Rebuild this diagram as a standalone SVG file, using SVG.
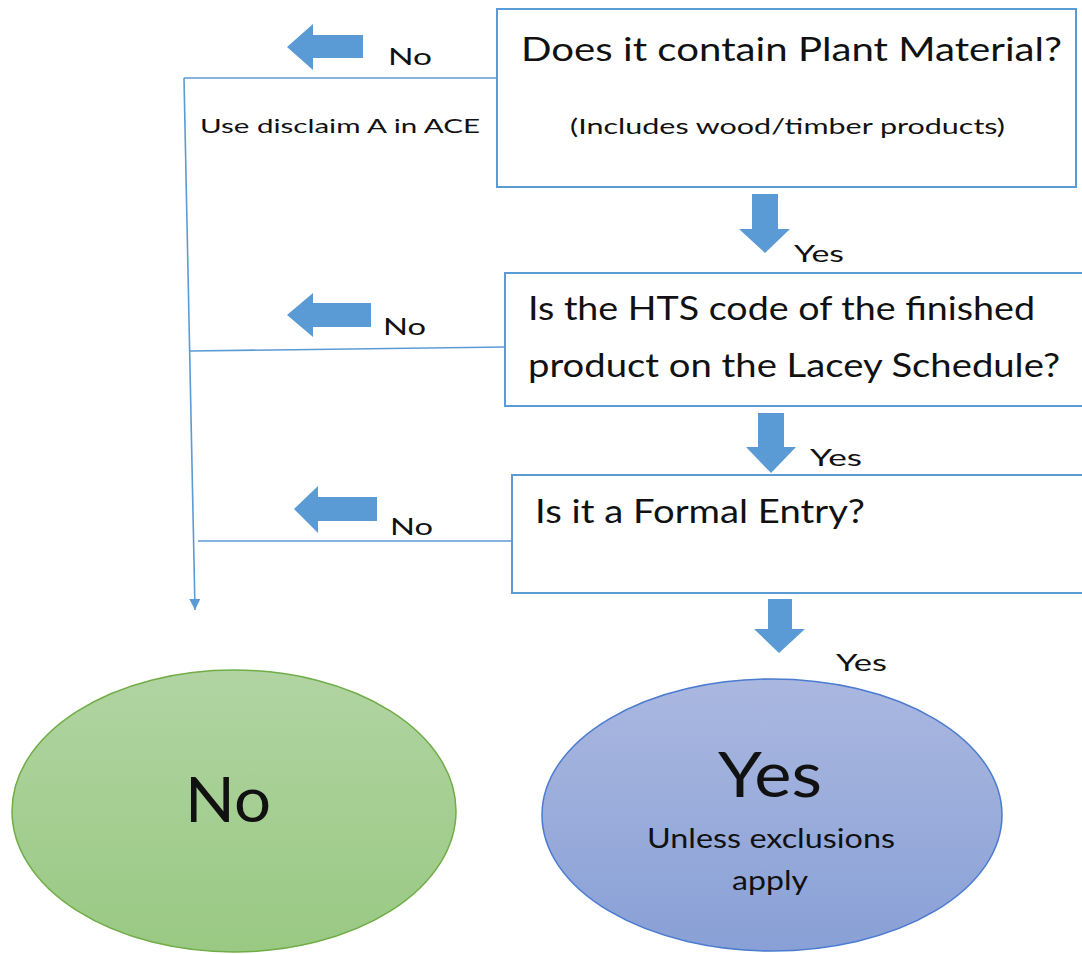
<svg xmlns="http://www.w3.org/2000/svg" width="1082" height="954" viewBox="0 0 1082 954">
<defs>
<linearGradient id="gGreen" x1="0" y1="0" x2="0" y2="1"><stop offset="0" stop-color="#b1d4a2"/><stop offset="1" stop-color="#99c983"/></linearGradient>
<linearGradient id="gBlue" x1="0" y1="0" x2="0" y2="1"><stop offset="0" stop-color="#aab8e0"/><stop offset="1" stop-color="#89a0d6"/></linearGradient>
<marker id="ah" viewBox="0 0 10 10" refX="10" refY="5" markerWidth="11" markerHeight="11" markerUnits="userSpaceOnUse" orient="auto">
<path d="M0,0 L10,5 L0,10 Z" fill="#5b9bd5"/>
</marker>
<style>
text{font-family:Lato,"Open Sans","Liberation Sans",sans-serif;fill:#111}
.box{fill:#fff;stroke:#5b9bd5;stroke-width:2}
.blk{fill:#5b9bd5}
.ln{stroke:#5b9bd5;stroke-width:1.6;fill:none}
.lbl{font-size:24px}
</style>
</defs>
<rect width="1082" height="954" fill="#fff"/>
<g id="connectors">
<polyline class="ln" points="497,78 184,78"/>
<line class="ln" x1="184" y1="78" x2="195" y2="610" marker-end="url(#ah)"/>
<line class="ln" x1="190" y1="351" x2="505" y2="347"/>
<line class="ln" x1="198" y1="541" x2="512" y2="541"/>
<path class="blk" d="M287,47 L313,24 L313,35 L363,35 L363,58 L313,58 L313,70 Z"/>
<path class="blk" d="M287,315 L313,293 L313,303 L371,303 L371,327 L313,327 L313,337 Z"/>
<path class="blk" d="M294,509 L318,486 L318,497 L377,497 L377,521 L318,521 L318,533 Z"/>
<path class="blk" d="M752,194 L778,194 L778,229 L790,229 L765,253 L739,229 L752,229 Z"/>
<path class="blk" d="M758,413 L784,413 L784,447 L796,447 L771,473 L746,447 L758,447 Z"/>
<path class="blk" d="M768,599 L792,599 L792,629 L805,629 L779,653 L754,629 L768,629 Z"/>
<text class="lbl" x="388" y="65" textLength="44" lengthAdjust="spacingAndGlyphs">No</text>
<text x="200" y="133" font-size="20" textLength="280" lengthAdjust="spacingAndGlyphs">Use disclaim A in ACE</text>
<text class="lbl" x="794" y="262" textLength="50" lengthAdjust="spacingAndGlyphs">Yes</text>
<text class="lbl" x="383" y="335" textLength="43" lengthAdjust="spacingAndGlyphs">No</text>
<text class="lbl" x="810" y="466" textLength="52" lengthAdjust="spacingAndGlyphs">Yes</text>
<text class="lbl" x="390" y="535" textLength="43" lengthAdjust="spacingAndGlyphs">No</text>
<text class="lbl" x="836" y="671" textLength="51" lengthAdjust="spacingAndGlyphs">Yes</text>
</g>
<g id="q1">
<rect class="box" x="497" y="9" width="579" height="178"/>
<text x="521" y="61" font-size="33" textLength="541" lengthAdjust="spacingAndGlyphs">Does it contain Plant Material?</text>
<text x="570" y="134" font-size="22" textLength="435" lengthAdjust="spacingAndGlyphs">(Includes wood/timber products)</text>
</g>
<g id="q2">
<rect class="box" x="505" y="273" width="580" height="133"/>
<text x="528" y="320" font-size="33" textLength="507" lengthAdjust="spacingAndGlyphs">Is the HTS code of the finished</text>
<text x="528" y="377" font-size="33" textLength="532" lengthAdjust="spacingAndGlyphs">product on the Lacey Schedule?</text>
</g>
<g id="q3">
<rect class="box" x="512" y="475" width="573" height="118"/>
<text x="535" y="523" font-size="33" textLength="330" lengthAdjust="spacingAndGlyphs">Is it a Formal Entry?</text>
</g>
<g id="resultNo">
<ellipse cx="234" cy="811" rx="222" ry="141" fill="url(#gGreen)" stroke="#70ad47" stroke-width="1.5"/>
<text x="185" y="822" font-size="62" textLength="86" lengthAdjust="spacingAndGlyphs">No</text>
</g>
<g id="resultYes">
<ellipse cx="772" cy="815" rx="230" ry="136" fill="url(#gBlue)" stroke="#4a7bd0" stroke-width="1.5"/>
<text x="718" y="797" font-size="62" textLength="104" lengthAdjust="spacingAndGlyphs">Yes</text>
<text x="647" y="848" font-size="26" textLength="248" lengthAdjust="spacingAndGlyphs">Unless exclusions</text>
<text x="732" y="890" font-size="26" textLength="76" lengthAdjust="spacingAndGlyphs">apply</text>
</g>
</svg>
